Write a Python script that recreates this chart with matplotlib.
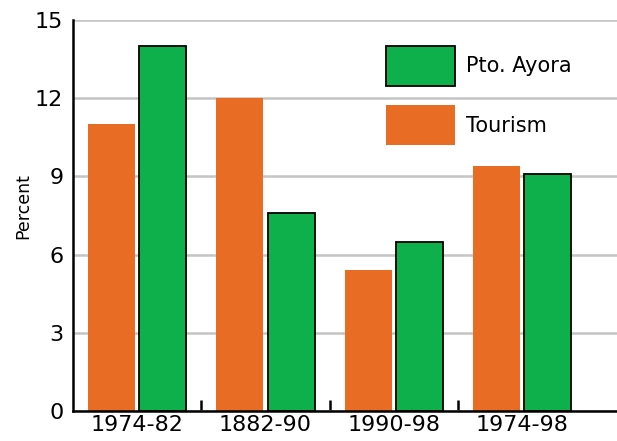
import matplotlib.pyplot as plt
import numpy as np

periods = ['1974-82', '1882-90', '1990-98', '1974-98']
tourism = [11.0, 12.0, 5.4, 9.4]
pto_ayora = [14.0, 7.6, 6.5, 9.1]
yticks = [0, 3, 6, 9, 12, 15]

orange = '#E86C23'
green = '#0DB04B'

fig = plt.figure(figsize=(6.17, 4.41), dpi=100)
ax = fig.add_axes([73 / 617, 30 / 441, 1 - 73 / 617, 391 / 441])

x = np.arange(len(periods))
w = 0.365
b_t = ax.bar(x - 0.2, tourism, w, color=orange, edgecolor='none', label='Tourism')
b_p = ax.bar(x + 0.2, pto_ayora, w, color=green, edgecolor='black', linewidth=1.3,
             label='Pto. Ayora')

ax.set_xlim(-0.5, 3.74)
ax.set_ylim(0, 15)
ax.set_yticks(yticks)
ax.set_xticks(x)
ax.set_xticklabels(periods)
ax.set_xticks(x[:-1] + 0.5, minor=True)
ax.tick_params(axis='x', which='major', length=0, labelsize=16, pad=3)
ax.tick_params(axis='x', which='minor', direction='in', length=8, width=1.8)
ax.tick_params(axis='y', length=0, labelsize=16, pad=7)

ax.yaxis.grid(True, color='#c4c4c4', linewidth=1.8)
ax.set_axisbelow(True)
for s in ['top', 'right']:
    ax.spines[s].set_visible(False)
ax.spines['left'].set_linewidth(1.8)
ax.spines['bottom'].set_linewidth(1.8)
ax.set_ylabel('Percent', fontsize=12.5)
ax.yaxis.set_label_coords(-0.074, 0.524)

ax.legend([b_p, b_t], ['Pto. Ayora', 'Tourism'], loc='upper left',
          bbox_to_anchor=(386 / 617, 1 - 46 / 441), bbox_transform=fig.transFigure,
          frameon=False, fontsize=15, borderpad=0, borderaxespad=0,
          handlelength=3.3, handleheight=2.6, handletextpad=0.55, labelspacing=0.9)

fig.savefig('out.png', dpi=100)
